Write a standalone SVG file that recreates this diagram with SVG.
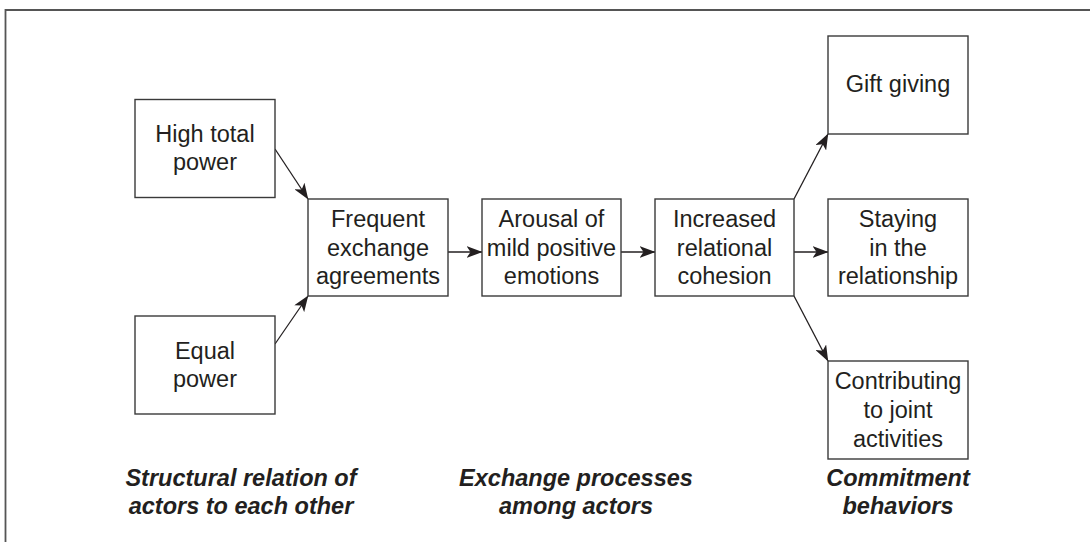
<svg xmlns="http://www.w3.org/2000/svg" width="1090" height="542" viewBox="0 0 1090 542">
  <style>
    .frame { fill: none; stroke: #555; stroke-width: 1.8; }
    .box { fill: #fff; stroke: #3a3a3a; stroke-width: 1.4; }
    .txt { font-family: "Liberation Sans", Arial, sans-serif; font-size: 23.5px; fill: #231f20; text-anchor: middle; }
    .cap { font-family: "Liberation Sans", Arial, sans-serif; font-size: 23.5px; font-weight: bold; font-style: italic; fill: #231f20; text-anchor: middle; }
    .edge { fill: none; stroke: #231f20; stroke-width: 1.3; }
  </style>
  <defs>
    <marker id="arrow" viewBox="0 0 16 12" refX="15.5" refY="6" markerWidth="16" markerHeight="12" markerUnits="userSpaceOnUse" orient="auto">
      <path d="M0,0 L16,6 L0,12 L4,6 Z" fill="#231f20"/>
    </marker>
  </defs>

  <rect width="1090" height="542" fill="#fff"/>
  <!-- open frame: top and left edges -->
  <path class="frame" d="M5.5,542 V10 H1090"/>

  <g id="connectors">
    <line class="edge" x1="275" y1="149" x2="308" y2="199" marker-end="url(#arrow)"/>
    <line class="edge" x1="275" y1="344" x2="308" y2="296" marker-end="url(#arrow)"/>
    <line class="edge" x1="448" y1="252" x2="482" y2="252" marker-end="url(#arrow)"/>
    <line class="edge" x1="621" y1="252" x2="655" y2="252" marker-end="url(#arrow)"/>
    <line class="edge" x1="794" y1="199" x2="828" y2="134" marker-end="url(#arrow)"/>
    <line class="edge" x1="794" y1="252" x2="828" y2="252" marker-end="url(#arrow)"/>
    <line class="edge" x1="794" y1="296" x2="828" y2="361" marker-end="url(#arrow)"/>
  </g>

  <g id="high-total-power">
    <rect class="box" x="135" y="99.5" width="140" height="98"/>
    <text class="txt" x="205" y="141.5">High total</text>
    <text class="txt" x="205" y="170">power</text>
  </g>
  <g id="equal-power">
    <rect class="box" x="135" y="316" width="140" height="98"/>
    <text class="txt" x="205" y="358.5">Equal</text>
    <text class="txt" x="205" y="387">power</text>
  </g>
  <g id="frequent-exchange">
    <rect class="box" x="308" y="199" width="140" height="97"/>
    <text class="txt" x="378" y="226.5">Frequent</text>
    <text class="txt" x="378" y="255.5">exchange</text>
    <text class="txt" x="378" y="284">agreements</text>
  </g>
  <g id="arousal">
    <rect class="box" x="482" y="199" width="139" height="97"/>
    <text class="txt" x="551.5" y="226.5">Arousal of</text>
    <text class="txt" x="551.5" y="255.5">mild positive</text>
    <text class="txt" x="551.5" y="284">emotions</text>
  </g>
  <g id="relational-cohesion">
    <rect class="box" x="655" y="199" width="139" height="97"/>
    <text class="txt" x="724.5" y="226.5">Increased</text>
    <text class="txt" x="724.5" y="255.5">relational</text>
    <text class="txt" x="724.5" y="284">cohesion</text>
  </g>
  <g id="gift-giving">
    <rect class="box" x="828" y="36" width="140" height="98"/>
    <text class="txt" x="898" y="92">Gift giving</text>
  </g>
  <g id="staying">
    <rect class="box" x="828" y="199" width="140" height="97"/>
    <text class="txt" x="898" y="226.5">Staying</text>
    <text class="txt" x="898" y="255.5">in the</text>
    <text class="txt" x="898" y="284">relationship</text>
  </g>
  <g id="contributing">
    <rect class="box" x="828" y="361" width="140" height="98"/>
    <text class="txt" x="898" y="388.5">Contributing</text>
    <text class="txt" x="898" y="418">to joint</text>
    <text class="txt" x="898" y="446.5">activities</text>
  </g>

  <g id="captions">
    <text class="cap" x="241" y="486">Structural relation of</text>
    <text class="cap" x="241" y="513.5">actors to each other</text>
    <text class="cap" x="576" y="486">Exchange processes</text>
    <text class="cap" x="576" y="513.5">among actors</text>
    <text class="cap" x="898" y="486">Commitment</text>
    <text class="cap" x="898" y="513.5">behaviors</text>
  </g>
</svg>
